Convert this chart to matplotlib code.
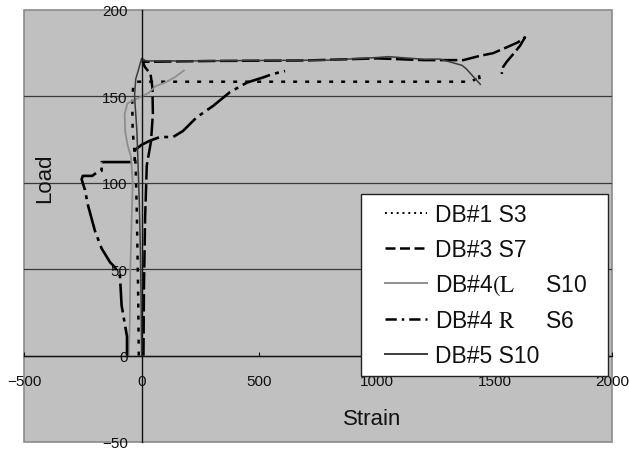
import matplotlib
matplotlib.use("Agg")
import numpy as np
import matplotlib.pyplot as plt
from matplotlib.lines import Line2D
from matplotlib.legend_handler import HandlerLine2D

plt.rcParams['font.family'] = ['Liberation Sans', 'DejaVu Sans']
plt.rcParams['mathtext.fontset'] = 'stix'

# ---- data (strain, load) ----
db1_strain = [-12, -15, -20, -25, -38, -40, -34, -20, 20, 300, 700, 1000, 1300, 1400, 1420, 1432, 1440, 1460]
db1_load = [0, 40, 80, 110, 130, 150, 157, 158.5, 158.5, 158.5, 158.5, 158.5, 158.5, 158.5, 160, 163.5, 158.5, 158.5]

db3_strain = [8, 10, 15, 22, 40, 48, 46, 38, 14, 5, 300, 700, 1000, 1200, 1368, 1439, 1494, 1552, 1600, 1630,
              1609, 1580, 1552, 1537, 1531]
db3_load = [0, 40, 80, 110, 124, 140, 155, 163, 167, 170, 170.5, 170.8, 172, 171, 171, 173.5, 175, 178.4, 181.3, 184.2,
            179.3, 174.5, 170, 167, 163]

db4l_strain = [-55, -50, -48, -42, -38, -45, -60, -70, -72, -60, -30, 0, 30, 60, 100, 140, 170, 180]
db4l_load = [0, 20, 50, 80, 100, 115, 122, 130, 140, 146, 148, 150, 152, 156, 158, 161, 164, 165]

db4r_strain = [-62, -62, -85, -92, -113, -134, -170, -198, -212, -228, -241, -255, -250, -210, -190, -170, -170,
               -50, -30, -28, 0, 36, 78, 134, 176, 235, 304, 376, 448, 517, 559, 610]
db4r_load = [0, 11, 29, 46, 51, 54, 62, 72, 79, 87, 96, 102, 104, 104, 106, 107, 112,
             112, 112, 119, 122, 124.4, 126.5, 126.5, 130, 138, 144.5, 152.5, 158, 161, 163, 164.7]

db5_strain = [0, -2, -5, -10, -15, -20, -30, -25, -10, 0, 20, 200, 500, 800, 1000, 1050, 1100, 1200, 1268, 1362,
              1380, 1400, 1420, 1440]
db5_load = [0, 30, 60, 90, 110, 130, 150, 160, 167, 172, 170.5, 170.5, 170.8, 171, 172.5, 173, 172.5, 171.5, 171.6, 168,
            166, 163, 160, 157]

labels = ["DB#1 S3", "DB#3 S7", r"DB#4$\mathrm{(L}$     S10", r"DB#4 $\mathrm{R}$     S6", "DB#5 S10"]
x_ticks = [-500, 0, 500, 1000, 1500, 2000]
y_ticks = [-50, 0, 50, 100, 150, 200]

W, H = 629, 452
fig = plt.figure(figsize=(W / 100, H / 100), dpi=100)
fig.patch.set_facecolor('white')
ax = fig.add_axes([24 / W, 1 - 443 / H, 588 / W, 432 / H])
ax.set_facecolor('#c0c0c0')
ax.patch.set_edgecolor('#8a8a8a')
ax.patch.set_linewidth(1.2)

ax.set_xlim(-500, 2000)
ax.set_ylim(-50, 200)
ax.set_xticks(x_ticks)
ax.set_yticks(y_ticks)

for s in ['top', 'right']:
    ax.spines[s].set_visible(False)
ax.spines['left'].set_position(('data', 0))
ax.spines['bottom'].set_position(('data', 0))
for s in ['left', 'bottom']:
    ax.spines[s].set_color('#111111')
    ax.spines[s].set_linewidth(1.0)

ax.tick_params(axis='x', direction='in', length=3, width=0.8, pad=13, labelsize=11, colors='#111111')
ax.tick_params(axis='y', direction='in', length=0, pad=10, labelsize=11, colors='#111111')

ax.yaxis.grid(True, color='#3a3a3a', linewidth=0.9)
ax.set_axisbelow(True)
gl = ax.yaxis.get_gridlines()
gl[0].set_visible(False)
gl[-1].set_visible(False)

ax.plot(db1_strain, db1_load, color='black', lw=1.8, linestyle=(0, (1.6, 3.2)))
ax.plot(db3_strain, db3_load, color='black', lw=1.8, linestyle=(0, (7, 1.8)))
ax.plot(db4l_strain, db4l_load, color='#8e8e8e', lw=1.3, linestyle='-')
ax.plot(db4r_strain, db4r_load, color='black', lw=1.9, linestyle=(0, (11, 2, 1.5, 2)))
ax.plot(db5_strain, db5_load, color='#3c3c3c', lw=1.1, linestyle='-')

# legend proxy handles with the reference's short patterns
h1 = Line2D([], [], color='black', lw=1.4, linestyle=(0, (1, 2)))
h2 = Line2D([], [], color='black', lw=1.8, linestyle=(0, (4, 1.8)))
h3 = Line2D([], [], color='#8e8e8e', lw=1.4, linestyle='-')
h4 = Line2D([], [], color='black', lw=1.8, linestyle=(0, (4.5, 2, 1, 2)))
h5 = Line2D([], [], color='#3c3c3c', lw=1.4, linestyle='-')


class ShiftedHandler(HandlerLine2D):
    def get_xdata(self, legend, xdescent, ydescent, width, height, fontsize):
        xd, xm = super().get_xdata(legend, xdescent, ydescent, width, height, fontsize)
        xd = np.array([xd[0] + 10.7, xd[-1]])
        return xd, xm


ax.set_xlabel("Strain", fontsize=16, color='#111111')
ax.xaxis.set_label_coords((372 - 24) / 588, (443 - 420) / 432)
ax.xaxis.label.set_verticalalignment('center')
ax.set_ylabel("Load", fontsize=16, color='#111111')
ax.yaxis.set_label_coords((45 - 24) / 588, (443 - 178) / 432)
ax.yaxis.label.set_verticalalignment('center')

hm = {h: ShiftedHandler() for h in [h1, h2, h3, h4, h5]}
leg = ax.legend([h1, h2, h3, h4, h5], labels, loc='upper left', handler_map=hm,
                bbox_to_anchor=(361 / W, 1 - 195 / H, 247 / W, 0.0), bbox_transform=fig.transFigure,
                mode='expand', borderaxespad=0, fontsize=16.5, frameon=True, fancybox=False,
                handlelength=2.48, handletextpad=0.35, labelspacing=0.52, borderpad=0.4)
leg.get_frame().set_edgecolor('#222222')
leg.get_frame().set_linewidth(1.0)
leg.get_frame().set_facecolor('white')
leg.get_frame().set_alpha(1.0)
for t in leg.get_texts():
    t.set_color('#111111')

fig.savefig("out.png", dpi=100)
